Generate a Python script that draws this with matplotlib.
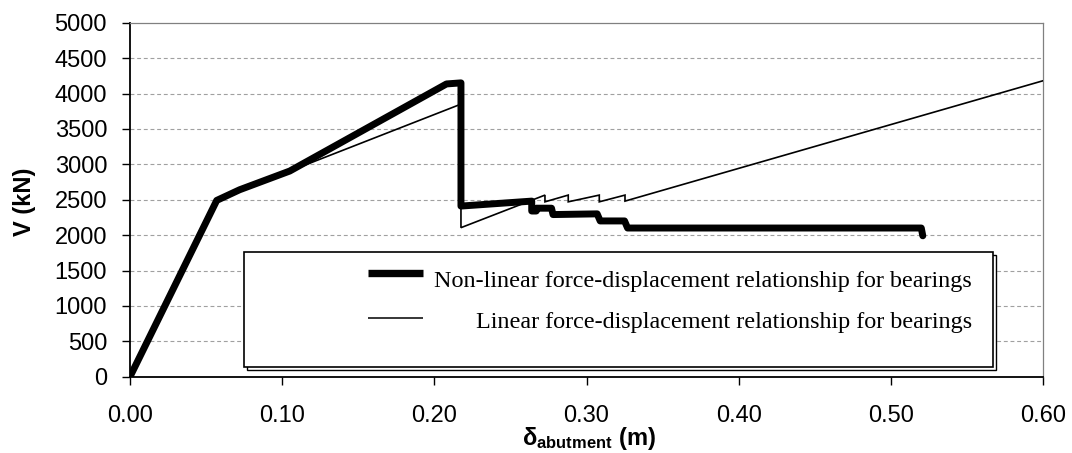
import matplotlib
matplotlib.use("Agg")
import matplotlib.pyplot as plt
from matplotlib.patches import Rectangle
from matplotlib.lines import Line2D

plt.rcParams["font.family"] = ["Liberation Sans", "DejaVu Sans"]
plt.rcParams["mathtext.fontset"] = "custom"
plt.rcParams["mathtext.rm"] = "Liberation Sans"
plt.rcParams["mathtext.bf"] = "Liberation Sans:bold"
plt.rcParams["mathtext.it"] = "Liberation Sans:italic"

# Abutment displacement (m) vs shear force (kN), non-linear bearing model
disp_nonlinear = [0.000, 0.057, 0.072, 0.105, 0.208, 0.2175, 0.2175, 0.264,
                  0.264, 0.267, 0.267, 0.277, 0.278, 0.307, 0.309, 0.325,
                  0.327, 0.520, 0.521]
force_nonlinear = [0, 2490, 2640, 2905, 4135, 4150, 2410, 2480,
                   2340, 2340, 2380, 2380, 2290, 2300, 2200, 2200,
                   2100, 2100, 1990]

# Same quantities, linear bearing model
disp_linear = [0.000, 0.057, 0.072, 0.105, 0.2175, 0.2175, 0.2727, 0.2727,
               0.288, 0.288, 0.3084, 0.3084, 0.3253, 0.3253, 0.600]
force_linear = [0, 2490, 2640, 2905, 3850, 2105, 2565, 2470,
                2565, 2470, 2565, 2470, 2565, 2480, 4180]

x_ticks = [0.0, 0.1, 0.2, 0.3, 0.4, 0.5, 0.6]
y_ticks = list(range(0, 5001, 500))
labels = ["Non-linear force-displacement relationship for bearings",
          "Linear force-displacement relationship for bearings"]

W, H, DPI = 1072, 453, 100
fig = plt.figure(figsize=(W / DPI, H / DPI), dpi=DPI)
fig.patch.set_facecolor("white")


def fx(px):
    return px / W


def fy(py):
    return 1 - py / H


left, right, top, bottom = 130, 1043, 22.7, 376.7
ax = fig.add_axes([fx(left), fy(bottom), fx(right) - fx(left), fy(top) - fy(bottom)])

ax.plot(disp_linear, force_linear, color="black", lw=1.2, zorder=3,
        solid_joinstyle="miter")
ax.plot(disp_nonlinear, force_nonlinear, color="black", lw=5.0, zorder=4,
        solid_capstyle="round", solid_joinstyle="round")

ax.set_xlim(0, 0.6)
ax.set_ylim(0, 5000)
ax.set_xticks(x_ticks)
ax.set_xticklabels([f"{v:.2f}" for v in x_ticks])
ax.set_yticks(y_ticks)
ax.set_yticklabels([str(v) for v in y_ticks])

for v in y_ticks[1:-1]:
    ax.axhline(v, color="#a0a0a0", lw=0.8, ls=(0, (3.5, 2.5)), zorder=1)

ax.tick_params(axis="both", direction="out", length=5.5, width=1.0,
               colors="black", labelsize=17)
ax.tick_params(axis="x", pad=15)
ax.tick_params(axis="y", pad=11)

for s in ("left", "bottom"):
    ax.spines[s].set_color("black")
    ax.spines[s].set_linewidth(1.3)
for s in ("top", "right"):
    ax.spines[s].set_color("#808080")
    ax.spines[s].set_linewidth(0.9)

fig.text(fx(24), fy(202), "V (kN)", rotation=90, ha="center", va="center",
         fontsize=17, fontweight="bold")
fig.text(fx(589), fy(445), r"$\mathbf{\delta}_{\mathbf{abutment}}$ (m)",
         ha="center", va="baseline", fontsize=17, fontweight="bold")

# Legend panel with an offset outline behind it
bx0, by0, bx1, by1 = 244, 252.3, 992.7, 366.7
shadow = Rectangle((fx(bx0 + 3), fy(by1 + 3)), fx(bx1 - bx0), fy(by0) - fy(by1),
                   transform=fig.transFigure, fc="white", ec="black", lw=1.0,
                   zorder=5)
box = Rectangle((fx(bx0), fy(by1)), fx(bx1 - bx0), fy(by0) - fy(by1),
                transform=fig.transFigure, fc="white", ec="black", lw=1.2,
                zorder=6)
fig.add_artist(shadow)
fig.add_artist(box)

fig.add_artist(Line2D([fx(368), fx(422.7)], [fy(273.3), fy(273.3)],
                      transform=fig.transFigure, color="black", lw=5.3,
                      solid_capstyle="butt", zorder=7))
fig.add_artist(Line2D([fx(368), fx(422.7)], [fy(317.7), fy(317.7)],
                      transform=fig.transFigure, color="black", lw=1.1,
                      solid_capstyle="butt", zorder=7))
fig.text(fx(972), fy(286.7), labels[0], ha="right", va="baseline",
         fontsize=17.4, family=["Liberation Serif", "DejaVu Serif"], zorder=8)
fig.text(fx(972), fy(328.3), labels[1], ha="right", va="baseline",
         fontsize=17.4, family=["Liberation Serif", "DejaVu Serif"], zorder=8)

fig.savefig("out.png", dpi=DPI, facecolor="white")
